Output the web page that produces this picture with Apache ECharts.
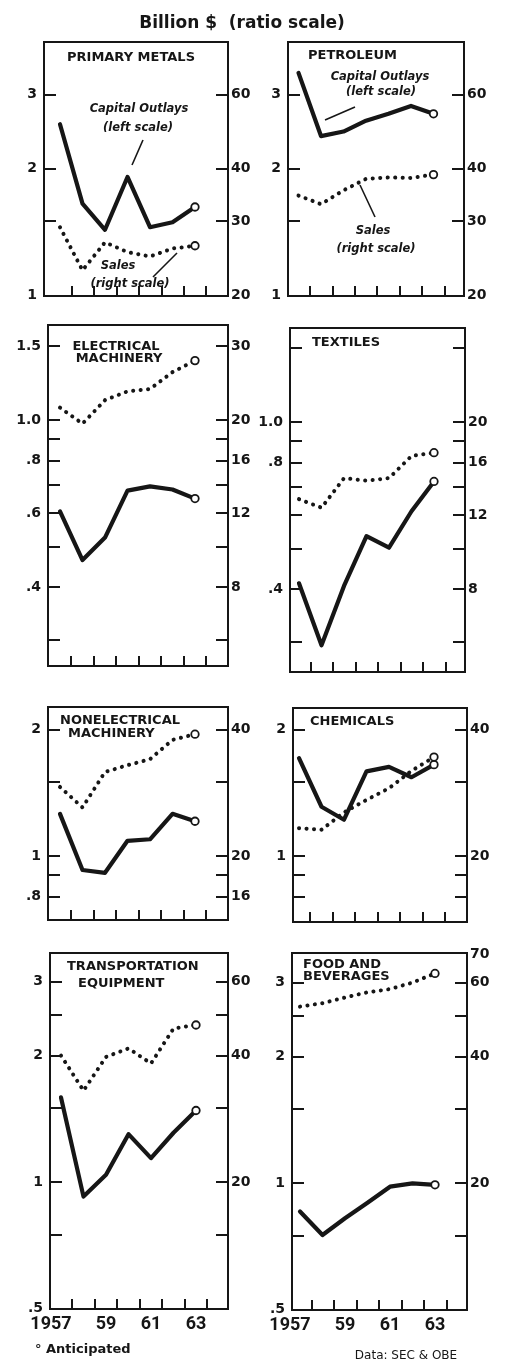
<!DOCTYPE html>
<html><head><meta charset="utf-8">
<script src="https://cdn.jsdelivr.net/npm/echarts@6/dist/echarts.min.js"></script>
<style>html,body{margin:0;padding:0;background:#fff}#c{width:508px;height:1359px}</style>
</head><body><div id="c"></div>
<script>
// ---------------- DATA ----------------
const years = [1957, 1958, 1959, 1960, 1961, 1962, 1963];
const xTickYears = [1957.5, 1958.5, 1959.5, 1960.5, 1961.5, 1962.5, 1963.5];
const xLabelYears = [1957, 1959, 1961, 1963];

// Capital outlays (billion $, left scale) and Sales (billion $, right scale)
const primaryMetalsCapital = [2.55, 1.65, 1.43, 1.91, 1.45, 1.49, 1.62];
const primaryMetalsSales   = [29.0, 22.9, 26.7, 25.3, 24.7, 25.8, 26.2];
const petroleumCapital     = [3.38, 2.39, 2.45, 2.60, 2.70, 2.82, 2.70];
const petroleumSales       = [34.5, 32.9, 35.5, 37.8, 38.1, 38.0, 38.7];
const electricalCapital    = [0.606, 0.464, 0.525, 0.679, 0.695, 0.683, 0.650];
const electricalSales      = [21.4, 19.6, 22.3, 23.4, 23.7, 26.0, 27.7];
const textilesCapital      = [0.413, 0.294, 0.407, 0.535, 0.502, 0.613, 0.722];
const textilesSales        = [13.1, 12.5, 14.7, 14.5, 14.7, 16.6, 16.9];
const nonelecCapital       = [1.26, 0.926, 0.912, 1.087, 1.096, 1.26, 1.21];
const nonelecSales         = [29.2, 26.1, 31.7, 32.9, 34.0, 37.8, 39.0];
const chemicalsCapital     = [1.71, 1.31, 1.22, 1.59, 1.63, 1.54, 1.65];
const chemicalsSales       = [23.3, 23.1, 25.4, 27.2, 29.0, 31.9, 34.4];
const transportCapital     = [1.59, 0.923, 1.04, 1.30, 1.14, 1.31, 1.48];
const transportSales       = [40.0, 33.0, 39.7, 41.6, 38.3, 46.4, 47.3];
const foodCapital          = [0.855, 0.752, 0.824, 0.897, 0.98, 0.998, 0.99];
const foodSales            = [52.6, 53.6, 55.3, 56.9, 57.9, 60.0, 63.1];

// Tick labels [value, text] and tick marks
const lblA_left  = [[1,'1'],[2,'2'],[3,'3']];
const lblA_right = [[20,'20'],[30,'30'],[40,'40'],[60,'60']];
const tickA_left = [1.5, 2, 3];
const tickA_right = [30, 40, 60];
const lblElec_left  = [[1.5,'1.5'],[1,'1.0'],[0.8,'.8'],[0.6,'.6'],[0.4,'.4']];
const lblElec_right = [[30,'30'],[20,'20'],[16,'16'],[12,'12'],[8,'8']];
const lblText_left  = [[1,'1.0'],[0.8,'.8'],[0.4,'.4']];
const lblText_right = [[20,'20'],[16,'16'],[12,'12'],[8,'8']];
const tickB_left  = [1.5, 1, 0.9, 0.8, 0.7, 0.6, 0.5, 0.4, 0.3];
const tickB_right = [30, 20, 18, 16, 14, 12, 10, 8, 6];
const lblNon_left  = [[2,'2'],[1,'1'],[0.8,'.8']];
const lblNon_right = [[40,'40'],[20,'20'],[16,'16']];
const lblChem_left  = [[2,'2'],[1,'1']];
const lblChem_right = [[40,'40'],[20,'20']];
const tickC_left  = [2, 1.5, 1, 0.9, 0.8];
const tickC_right = [40, 30, 20, 18, 16];
const lblD_left  = [[3,'3'],[2,'2'],[1,'1'],[0.5,'.5']];
const lblTrans_right = [[60,'60'],[40,'40'],[20,'20']];
const lblFood_right  = [[70,'70'],[60,'60'],[40,'40'],[20,'20']];
const tickD_left  = [3, 2.5, 2, 1.5, 1, 0.75];
const tickD_right = [60, 50, 40, 30, 20, 15];

// ---------------- LAYOUT ----------------
const PPD = 420;      // pixels per decade (ratio scale)
const PPY = 22.5;     // pixels per year
const RATIO = 20;     // right scale = 20 x left scale
const panels = [
  {cap: primaryMetalsCapital, sales: primaryMetalsSales, L:44, R:228, T:42, B:296, oneY:295, x57:60,
   ll: lblA_left, lr: lblA_right, tl: tickA_left, tr: tickA_right},
  {cap: petroleumCapital, sales: petroleumSales, L:288, R:464, T:42, B:296, oneY:295, x57:298.5,
   ll: lblA_left, lr: lblA_right, tl: tickA_left, tr: tickA_right},
  {cap: electricalCapital, sales: electricalSales, L:48, R:228, T:325, B:666, oneY:420, x57:60,
   ll: lblElec_left, lr: lblElec_right, tl: tickB_left, tr: tickB_right},
  {cap: textilesCapital, sales: textilesSales, L:290, R:465, T:328, B:672, oneY:422, x57:299,
   ll: lblText_left, lr: lblText_right, tl: tickB_left, tr: tickB_right},
  {cap: nonelecCapital, sales: nonelecSales, L:48, R:228, T:707, B:920, oneY:856, x57:60,
   ll: lblNon_left, lr: lblNon_right, tl: tickC_left, tr: tickC_right},
  {cap: chemicalsCapital, sales: chemicalsSales, L:293, R:467, T:708, B:922, oneY:856, x57:299,
   ll: lblChem_left, lr: lblChem_right, tl: tickC_left, tr: tickC_right},
  {cap: transportCapital, sales: transportSales, L:50, R:228, T:953, B:1309, oneY:1182, x57:61,
   ll: lblD_left, lr: lblTrans_right, tl: tickD_left, tr: tickD_right, bottom:true},
  {cap: foodCapital, sales: foodSales, L:292, R:467, T:953, B:1310, oneY:1183, x57:300,
   ll: lblD_left, lr: lblFood_right, tl: tickD_left, tr: tickD_right, bottom:true}
];

const INK = '#161616';
const FONT = '"DejaVu Sans", sans-serif';
const YEARFONT = 'Roboto, "DejaVu Sans", sans-serif';
function fmtFrom(list){
  return function(v){
    for (const [val, txt] of list) if (Math.abs(v - val) < 1e-6 * Math.max(1, val)) return txt;
    return '';
  };
}
const anticipatedSymbol = (v, p) => p.dataIndex === years.length - 1 ? 'circle' : 'none';

const grid = [], xAxis = [], yAxis = [], series = [];
panels.forEach((p, i) => {
  grid.push({left: p.L, top: p.T, width: p.R - p.L, height: p.B - p.T,
    show: true, borderColor: INK, borderWidth: 2, backgroundColor: 'transparent', outerBoundsMode: 'none'});
  const xmin = 1957 - (p.x57 - p.L) / PPY;
  const xmax = 1957 + (p.R - p.x57) / PPY;
  xAxis.push({type: 'value', gridIndex: i, min: xmin, max: xmax,
    axisLine: {show: false}, splitLine: {show: false},
    axisTick: {show: true, inside: true, length: 10, customValues: xTickYears, lineStyle: {color: INK, width: 2}},
    axisLabel: {show: !!p.bottom, customValues: xLabelYears, margin: 6, color: INK,
      fontFamily: YEARFONT, fontWeight: 'bold', fontSize: 18,
      formatter: v => v === 1957 ? '{a|1957}' : String(v).slice(2),
      rich: {a: {padding: [0, 20, 0, 0], fontFamily: YEARFONT, fontWeight: 'bold', fontSize: 18, color: INK}}}
  });
  const lmin = Math.pow(10, -(p.B - p.oneY) / PPD);
  const lmax = Math.pow(10, (p.oneY - p.T) / PPD);
  const common = {type: 'log', logBase: 10, gridIndex: i, axisLine: {show: false}, splitLine: {show: false}};
  yAxis.push(Object.assign({}, common, {position: 'left', min: lmin, max: lmax,
    axisTick: {show: true, inside: true, length: 12, customValues: p.tl, lineStyle: {color: INK, width: 2}},
    axisLabel: {customValues: p.ll.map(d => d[0]), formatter: fmtFrom(p.ll), margin: 7, color: INK,
      fontFamily: FONT, fontWeight: 'bold', fontSize: 14}}));
  yAxis.push(Object.assign({}, common, {position: 'right', min: lmin * RATIO, max: lmax * RATIO,
    axisTick: {show: true, inside: true, length: 12, customValues: p.tr, lineStyle: {color: INK, width: 2}},
    axisLabel: {customValues: p.lr.map(d => d[0]), formatter: fmtFrom(p.lr), margin: 3, color: INK,
      fontFamily: FONT, fontWeight: 'bold', fontSize: 14}}));
  series.push({type: 'line', xAxisIndex: i, yAxisIndex: 2 * i,
    data: years.map((y, k) => [y, p.cap[k]]),
    lineStyle: {color: INK, width: 4.2, join: 'round', cap: 'round'},
    showSymbol: true, symbol: anticipatedSymbol, symbolSize: 7.5,
    itemStyle: {color: '#fff', borderColor: INK, borderWidth: 1.8},
    silent: true, animation: false, z: 3});
  series.push({type: 'line', xAxisIndex: i, yAxisIndex: 2 * i + 1,
    data: years.map((y, k) => [y, p.sales[k]]),
    lineStyle: {color: INK, width: 4, type: [0.1, 7.4], cap: 'round', join: 'round'},
    showSymbol: true, symbol: anticipatedSymbol, symbolSize: 7.5,
    itemStyle: {color: '#fff', borderColor: INK, borderWidth: 1.8},
    silent: true, animation: false, z: 3});
});

function txt(x, y, text, font, align){
  return {type: 'text', x: x, y: y, silent: true, z: 10,
    style: {text: text, font: font, fill: INK, align: align || 'center', verticalAlign: 'middle'}};
}
function ln(x1, y1, x2, y2){
  return {type: 'line', silent: true, z: 10, shape: {x1, y1, x2, y2}, style: {stroke: INK, lineWidth: 1.6}};
}
const TF = 'bold 13px "DejaVu Sans", sans-serif';
const IF = 'italic bold 11.5px "DejaVu Sans", sans-serif';
const graphic = [
  txt(242, 24, 'Billion $  (ratio scale)', 'bold 17px "DejaVu Sans", sans-serif'),
  txt(67, 58, 'PRIMARY METALS', TF, 'left'),
  txt(308, 56, 'PETROLEUM', TF, 'left'),
  txt(116, 347, 'ELECTRICAL', TF), txt(119, 359, 'MACHINERY', TF),
  txt(312, 343, 'TEXTILES', TF, 'left'),
  txt(60, 721, 'NONELECTRICAL', TF, 'left'), txt(68, 734, 'MACHINERY', TF, 'left'),
  txt(310, 722, 'CHEMICALS', TF, 'left'),
  txt(67, 967, 'TRANSPORTATION', TF, 'left'), txt(78, 984, 'EQUIPMENT', TF, 'left'),
  txt(303, 965, 'FOOD AND', TF, 'left'), txt(303, 977, 'BEVERAGES', TF, 'left'),
  txt(139, 109, 'Capital Outlays', IF), txt(138, 128, '(left scale)', IF),
  ln(143, 140, 132, 165),
  txt(118, 266, 'Sales', IF), txt(130, 284, '(right scale)', IF),
  ln(153, 277, 177, 253),
  txt(380, 77, 'Capital Outlays', IF), txt(381, 92, '(left scale)', IF),
  ln(325, 120, 355, 107),
  txt(373, 231, 'Sales', IF), txt(376, 249, '(right scale)', IF),
  ln(360, 185, 375, 217),
  txt(35, 1350, '° Anticipated', 'bold 13px "DejaVu Sans", sans-serif', 'left'),
  txt(406, 1356, 'Data: SEC & OBE', '12px "DejaVu Sans", sans-serif')
];

const chart = echarts.init(document.getElementById('c'), null, {renderer: 'canvas'});
chart.setOption({animation: false, backgroundColor: '#fff', grid, xAxis, yAxis, series, graphic});
</script></body></html>
